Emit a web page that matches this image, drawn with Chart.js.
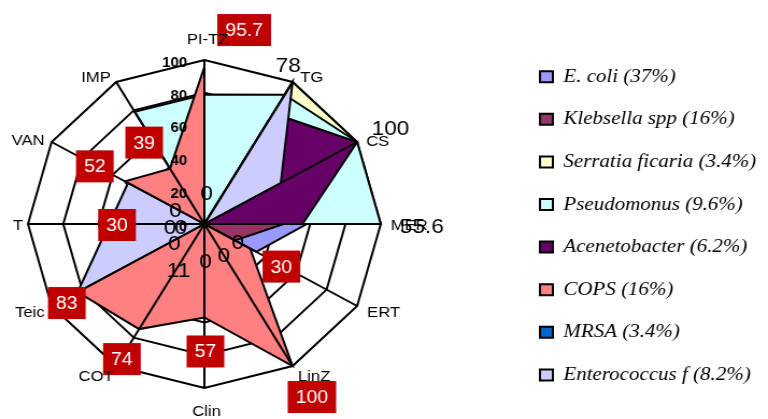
<!DOCTYPE html>
<html><head><meta charset="utf-8">
<script src="https://cdn.jsdelivr.net/npm/chart.js@4.4.1/dist/chart.umd.min.js"></script>
<style>html,body{margin:0;padding:0;background:#fff;overflow:hidden}
#c{display:block;width:768px;height:419px}</style>
</head><body>
<canvas id="c" width="714" height="419" style="width:768px;height:419px"></canvas>
<script>
// ---- data ----
const categories = ['PI-TZ','TG','CS','MER','ERT','LinZ','Clin','COT','Teic','T','VAN','IMP'];
const seriesNames = ['E. coli (37%)','Klebsella spp (16%)','Serratia ficaria (3.4%)','Pseudomonus (9.6%)','Acenetobacter (6.2%)','COPS (16%)','MRSA (3.4%)','Enterococcus f (8.2%)'];
const eColi         = [0, 0, 0, 58, 34, 0, 0, 0, 0, 0, 0, 0];
const klebsella     = [0, 0, 0, 45, 20, 0, 0, 0, 0, 0, 0, 0];
const serratia      = [0, 100, 100, 0, 0, 0, 0, 0, 0, 0, 0, 0];
const pseudomonus   = [79, 91, 100, 100, 0, 0, 0, 0, 0, 0, 0, 79];
const acenetobacter = [0, 78, 100, 55.6, 0, 0, 0, 11, 0, 0, 0, 0];
const cops          = [95.7, 0, 0, 0, 30, 100, 57, 74, 83, 30, 52, 39];
const mrsa          = [0, 0, 0, 0, 0, 0, 0, 0, 0, 0, 0, 0];
const enterococcus  = [0, 100, 50, 0, 0, 0, 0, 0, 83, 54, 50, 0];
const tickValues    = [0, 20, 40, 60, 80, 100];

// ---- styles ----
const colors = ['#9999FF','#993366','#FFFFCC','#CCFFFF','#660066','#FF8080','#0066CC','#CCCCFF'];
const seriesData = [eColi, klebsella, serratia, pseudomonus, acenetobacter, cops, mrsa, enterococcus];
const copsLabelOffsets = [[37,-37],null,null,null,[29,18],[18,31],[1,34],[-16,30],[-10,11],[-32,1],[-28,-15],[-24,-26]];
const acenLabelOffsets = [[2,-30],[14,-47],[31,-13],[111,3],[31,19],[18,32],[1,38],[-15,32],[-28,20],[-22,4],[-32,4],[-27,-13]];
const pointLabelStyle = [
  ['center',3,-20],['left',7,-4],['left',8.4,0],['left',9.3,2],['left',9.3,7],['left',5,11],
  ['center',2,24],['right',-2.3,11],['right',-6.5,7],['right',-4.6,2],['right',-6.5,-1],['right',-5,-4]
];
const legendFontSize = 19.5, legendPad = 23.1;

Chart.defaults.color = '#000';

const overlay = {
  id: 'overlay',
  afterDatasetsDraw(chart) {
    const ctx = chart.ctx, s = chart.scales.r;
    ctx.save();
    // spokes on top of fills
    ctx.strokeStyle = '#000'; ctx.lineWidth = 2;
    categories.forEach((c, i) => {
      const p = s.getPointPositionForValue(i, s.max);
      ctx.beginPath(); ctx.moveTo(s.xCenter, s.yCenter); ctx.lineTo(p.x, p.y); ctx.stroke();
    });
    // tick labels
    ctx.fillStyle = '#000';
    ctx.font = 'bold 14px "Liberation Sans", Arial, sans-serif';
    ctx.textAlign = 'right'; ctx.textBaseline = 'middle';
    tickValues.forEach(v => {
      ctx.fillText(String(v), s.xCenter - 16, s.yCenter - s.getDistanceFromCenterForValue(v) + 3);
    });
    // black data labels (Acenetobacter)
    const ma = chart.getDatasetMeta(4);
    ctx.font = '21px "Liberation Sans", Arial, sans-serif';
    ctx.textAlign = 'center';
    acenetobacter.forEach((v, i) => {
      const el = ma.data[i], o = acenLabelOffsets[i];
      ctx.fillText(String(v), el.x + o[0], el.y + o[1]);
    });
    // red data labels (COPS)
    const mc = chart.getDatasetMeta(5);
    ctx.font = '18px "Liberation Sans", Arial, sans-serif';
    cops.forEach((v, i) => {
      const o = copsLabelOffsets[i]; if (!o) return;
      const el = mc.data[i], t = String(v);
      const w = ctx.measureText(t).width + 15, h = 32;
      const cx = el.x + o[0], cy = el.y + o[1];
      ctx.fillStyle = '#C00000'; ctx.fillRect(cx - w/2, cy - h/2, w, h);
      ctx.fillStyle = '#fff'; ctx.fillText(t, cx, cy + 1);
    });
    // category labels
    ctx.fillStyle = '#000';
    ctx.font = '15.5px "Liberation Sans", Arial, sans-serif';
    categories.forEach((c, i) => {
      const p = s.getPointPositionForValue(i, s.max), st = pointLabelStyle[i];
      ctx.textAlign = st[0];
      ctx.fillText(c, p.x + st[1], p.y + st[2]);
    });
    ctx.restore();
  }
};

const legendPlace = {
  id: 'legendPlace',
  afterLayout(chart) {
    const lg = chart.legend; if (!lg) return;
    lg.left = 502 - legendPad; lg.top = 76.7 - legendFontSize / 2 - legendPad;
  }
};

new Chart(document.getElementById('c'), {
  type: 'radar',
  data: {
    labels: categories,
    datasets: seriesNames.map((n, i) => ({
      label: n,
      data: seriesData[i],
      backgroundColor: colors[i],
      borderColor: '#000',
      borderWidth: 2,
      pointRadius: 0,
      fill: true,
      tension: 0,
      clip: false,
      order: seriesNames.length - 1 - i
    }))
  },
  options: {
    responsive: false,
    devicePixelRatio: 1,
    animation: false,
    events: [],
    layout: { padding: 0 },
    plugins: {
      tooltip: { enabled: false },
      legend: {
        position: 'right',
        align: 'start',
        reverse: true,
        labels: {
          boxWidth: 12, boxHeight: 11, padding: legendPad, color: '#000',
          font: { family: '"Liberation Serif", "Times New Roman", serif', size: legendFontSize, style: 'italic' }
        }
      }
    },
    scales: {
      r: {
        min: 0, max: 100,
        ticks: { display: false, stepSize: 20 },
        pointLabels: { display: false },
        angleLines: { display: false },
        grid: { color: '#000', lineWidth: 2 },
        afterFit(scale) { scale.xCenter = 190; scale.yCenter = 224; scale.drawingArea = 164; }
      }
    }
  },
  plugins: [overlay, legendPlace]
});
</script>
</body></html>
